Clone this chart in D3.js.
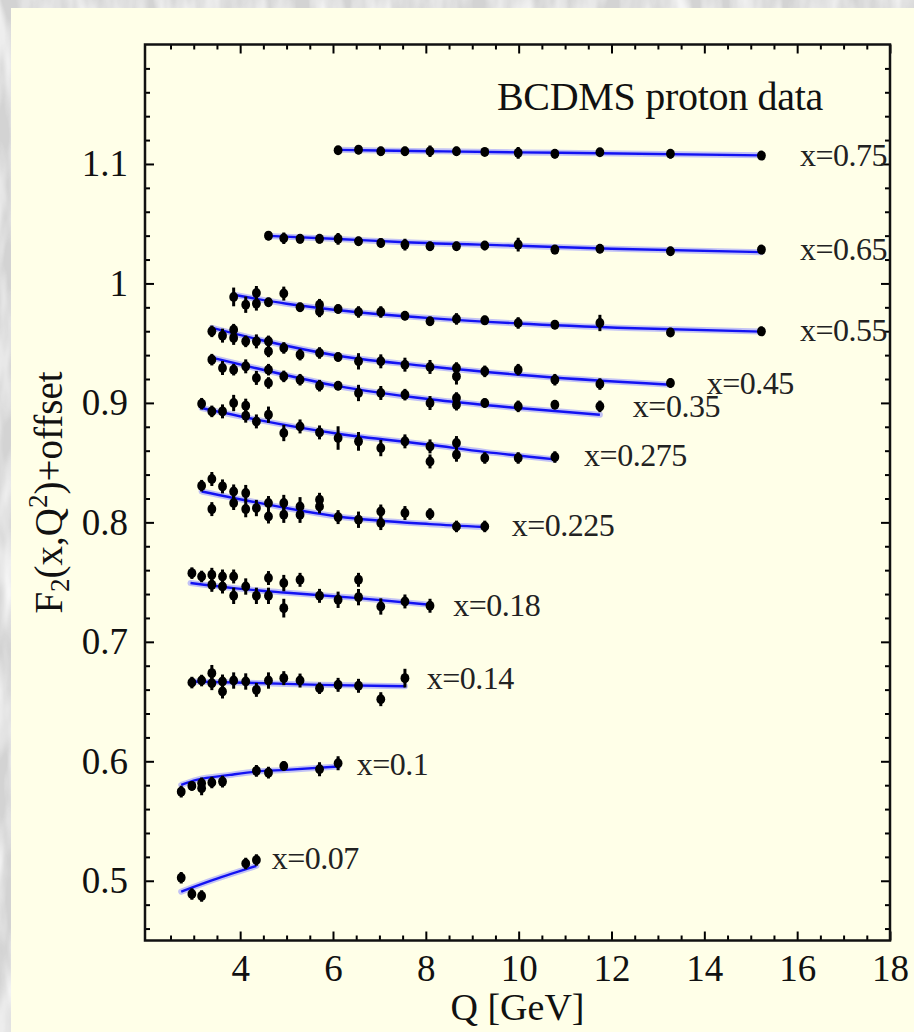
<!DOCTYPE html>
<html><head><meta charset="utf-8">
<script src="https://cdn.jsdelivr.net/npm/d3@7"></script>
<style>html,body{margin:0;padding:0;background:#d6d6d6;} svg{display:block}</style>
</head><body><svg id="chart" width="914" height="1032"></svg>
<script>
// ---------------- data ----------------
const labels = ["x=0.75","x=0.65","x=0.55","x=0.45","x=0.35","x=0.275","x=0.225","x=0.18","x=0.14","x=0.1","x=0.07"];

const q075 = [6.11,6.55,7.03,7.55,8.09,8.66,9.27,9.99,10.78,11.75,13.27,15.23];
const f075 = [1.1115,1.1120,1.1106,1.1106,1.1106,1.1106,1.1101,1.1093,1.1085,1.1098,1.1085,1.1070];
const e075 = [0.002,0.003,0.003,0.003,0.004,0.003,0.002,0.004,0.003,0.002,0.003,0.002];

const q065 = [4.61,4.94,5.29,5.71,6.11,6.55,7.03,7.55,8.09,8.66,9.27,9.99,10.78,11.75,13.27,15.23];
const f065 = [1.0400,1.0378,1.0373,1.0373,1.0373,1.0353,1.0339,1.0325,1.0311,1.0311,1.0317,1.0325,1.0283,1.0291,1.0269,1.0283];
const e065 = [0.003,0.004,0.003,0.003,0.004,0.003,0.003,0.004,0.003,0.003,0.003,0.005,0.003,0.003,0.003,0.003];

const q055 = [3.86,4.12,4.35,4.35,4.61,4.94,5.29,5.71,5.71,6.11,6.55,7.03,7.55,8.09,8.66,9.27,9.99,10.78,11.75,13.27,15.23];
const f055 = [0.9887,0.9822,0.9920,0.9831,0.9842,0.9915,0.9800,0.9822,0.9766,0.9786,0.9761,0.9761,0.9730,0.9683,0.9703,0.9691,0.9669,0.9655,0.9669,0.9590,0.9599];
const e055 = [0.007,0.006,0.005,0.005,0.003,0.005,0.003,0.004,0.004,0.003,0.004,0.004,0.003,0.003,0.004,0.003,0.004,0.003,0.006,0.003,0.003];

const q045 = [3.39,3.62,3.86,3.86,4.12,4.35,4.61,4.61,4.94,5.29,5.71,6.11,6.55,7.03,7.55,8.09,8.66,8.66,9.27,9.99,10.78,11.75,13.27];
const f045 = [0.9599,0.9563,0.9613,0.9544,0.9515,0.9515,0.9515,0.9431,0.9460,0.9404,0.9418,0.9384,0.9348,0.9348,0.9320,0.9301,0.9292,0.9222,0.9264,0.9278,0.9194,0.9158,0.9167];
const e045 = [0.004,0.005,0.004,0.005,0.004,0.005,0.004,0.004,0.004,0.004,0.004,0.003,0.006,0.005,0.005,0.005,0.004,0.006,0.004,0.004,0.004,0.004,0.003];

const q035 = [3.39,3.62,3.86,4.12,4.35,4.61,4.61,4.94,5.29,5.71,6.11,6.55,7.03,7.55,8.09,8.66,8.66,9.27,9.99,10.78,11.75];
const f035 = [0.9362,0.9292,0.9278,0.9306,0.9209,0.9278,0.9167,0.9222,0.9194,0.9144,0.9144,0.9083,0.9083,0.9069,0.8999,0.9041,0.8985,0.8999,0.8971,0.8985,0.8971];
const e035 = [0.004,0.005,0.004,0.005,0.005,0.004,0.004,0.004,0.004,0.004,0.003,0.006,0.005,0.004,0.005,0.004,0.004,0.003,0.004,0.003,0.004];

const q0275 = [3.17,3.39,3.62,3.86,4.12,4.12,4.35,4.61,4.94,5.29,5.71,6.11,6.55,7.03,7.55,8.09,8.09,8.66,8.66,9.27,9.99,10.78];
const f0275 = [0.8993,0.8929,0.8929,0.8999,0.8977,0.8893,0.8845,0.8901,0.8748,0.8803,0.8753,0.8706,0.8678,0.8622,0.8678,0.8636,0.8510,0.8664,0.8566,0.8539,0.8539,0.8547];
const e0275 = [0.004,0.004,0.005,0.006,0.005,0.005,0.005,0.006,0.006,0.005,0.005,0.009,0.007,0.006,0.005,0.005,0.005,0.005,0.005,0.004,0.004,0.004];

const q0225 = [3.17,3.39,3.39,3.62,3.86,3.86,4.12,4.12,4.35,4.61,4.61,4.94,4.94,5.29,5.29,5.71,5.71,6.11,6.55,7.03,7.03,7.55,8.09,8.66,9.27];
const f0225 = [0.8307,0.8363,0.8111,0.8301,0.8259,0.8162,0.8245,0.8111,0.8120,0.8162,0.8049,0.8162,0.8064,0.8133,0.8064,0.8189,0.8133,0.8044,0.8022,0.8091,0.7994,0.8078,0.8070,0.7966,0.7966];
const e0225 = [0.004,0.005,0.005,0.005,0.005,0.005,0.006,0.006,0.006,0.005,0.005,0.006,0.006,0.007,0.006,0.005,0.005,0.005,0.006,0.005,0.005,0.005,0.004,0.004,0.004];

const q018 = [2.96,3.17,3.39,3.39,3.62,3.62,3.86,3.86,4.12,4.35,4.61,4.61,4.94,4.94,5.29,5.71,6.11,6.55,6.55,7.03,7.55,8.09];
const f018 = [0.7575,0.7547,0.7561,0.7477,0.7547,0.7463,0.7547,0.7385,0.7463,0.7385,0.7534,0.7385,0.7492,0.7282,0.7519,0.7385,0.7352,0.7519,0.7374,0.7296,0.7338,0.7302];
const e018 = [0.004,0.004,0.005,0.005,0.005,0.005,0.005,0.006,0.006,0.006,0.005,0.006,0.006,0.007,0.005,0.005,0.006,0.005,0.006,0.006,0.005,0.005];

const q014 = [2.96,3.17,3.39,3.39,3.62,3.62,3.86,4.12,4.35,4.61,4.94,5.29,5.71,6.11,6.55,7.03,7.55];
const f014 = [0.6659,0.6676,0.6738,0.6654,0.6668,0.6584,0.6676,0.6668,0.6598,0.6676,0.6696,0.6676,0.6612,0.6640,0.6632,0.6520,0.6696];
const e014 = [0.004,0.004,0.006,0.005,0.005,0.005,0.006,0.006,0.005,0.006,0.005,0.005,0.004,0.005,0.005,0.005,0.007];

const q010 = [2.73,2.96,3.17,3.17,3.39,3.62,4.35,4.61,4.94,5.71,6.11];
const f010 = [0.5746,0.5794,0.5817,0.5775,0.5822,0.5830,0.5920,0.5905,0.5961,0.5934,0.5984];
const e010 = [0.004,0.003,0.004,0.005,0.004,0.004,0.004,0.004,0.003,0.005,0.005];

const q007 = [2.73,2.96,3.17,4.12,4.35];
const f007 = [0.5025,0.4889,0.4873,0.5145,0.5174];
const e007 = [0.004,0.004,0.004,0.004,0.004];

// fitted curves (read at a few Q values)
const fitQ075 = [6.11,8.09,9.99,11.75,15.23];        const fitF075 = [1.1118,1.1107,1.1097,1.1090,1.1072];
const fitQ065 = [4.61,6.11,7.55,9.99,12.0,15.23];    const fitF065 = [1.0398,1.0372,1.0345,1.0315,1.0290,1.0262];
const fitQ055 = [3.86,5.0,6.11,8.09,9.99,12.5,15.23];const fitF055 = [0.9905,0.9830,0.9776,0.9710,0.9665,0.9625,0.9597];
const fitQ045 = [3.39,4.35,6.11,8.09,9.99,13.27];    const fitF045 = [0.9628,0.9535,0.9395,0.9305,0.9236,0.9152];
const fitQ035 = [3.39,4.35,6.11,8.09,9.99,11.75];    const fitF035 = [0.9379,0.9290,0.9140,0.9030,0.8957,0.8901];
const fitQ0275 = [3.17,4.35,6.11,8.09,9.27,10.78];   const fitF0275 = [0.8957,0.8860,0.8742,0.8650,0.8590,0.8527];
const fitQ0225 = [3.17,4.35,6.11,8.09,9.27];         const fitF0225 = [0.8259,0.8167,0.8049,0.7985,0.7961];
const fitQ018 = [2.93,3.86,4.94,6.55,8.09];          const fitF018 = [0.7492,0.7450,0.7413,0.7366,0.7310];
const fitQ014 = [2.96,4.35,5.71,7.55];               const fitF014 = [0.6668,0.6655,0.6640,0.6628];
const fitQ010 = [2.73,3.06,3.78,4.35,4.99,6.11];     const fitF010 = [0.5802,0.5844,0.5886,0.5914,0.5928,0.5956];
const fitQ007 = [2.73,3.42,4.35];                    const fitF007 = [0.4909,0.5007,0.5124];

// label anchors in data coordinates
const labelQ = [16.06,16.06,16.06,14.05,12.46,11.41,9.85,8.59,8.02,6.51,4.68];
const labelF = [1.0987,1.0199,0.9521,0.9077,0.8885,0.8474,0.7888,0.7218,0.6606,0.5886,0.5099];

const xMajor = [4,6,8,10,12,14,16,18];
const yMajor = [0.5,0.6,0.7,0.8,0.9,1.0,1.1];
const title = "BCDMS proton data";
const xTitle = "Q [GeV]";

// ---------------- build ----------------
const Q = [q075,q065,q055,q045,q035,q0275,q0225,q018,q014,q010,q007];
const F = [f075,f065,f055,f045,f035,f0275,f0225,f018,f014,f010,f007];
const E = [e075,e065,e055,e045,e035,e0275,e0225,e018,e014,e010,e007];
const FQ = [fitQ075,fitQ065,fitQ055,fitQ045,fitQ035,fitQ0275,fitQ0225,fitQ018,fitQ014,fitQ010,fitQ007];
const FF = [fitF075,fitF065,fitF055,fitF045,fitF035,fitF0275,fitF0225,fitF018,fitF014,fitF010,fitF007];

const W = 914, H = 1032;
const L = 145, R = 890, T = 44.5, B = 940.5;
const serif = "'Liberation Serif','Times New Roman',Times,serif";

const svg = d3.select("#chart");
const defs = svg.append("defs");
const filt = defs.append("filter").attr("id","marble").attr("x",0).attr("y",0).attr("width","100%").attr("height","100%");
filt.append("feTurbulence").attr("type","fractalNoise").attr("baseFrequency","0.045 0.012").attr("numOctaves",3).attr("seed",7);
filt.append("feColorMatrix").attr("type","matrix").attr("values","0 0 0 0 1  0 0 0 0 1  0 0 0 0 1  0 0 0 -2.2 1.45");
defs.append("clipPath").attr("id","plotclip").append("rect").attr("x",L).attr("y",T).attr("width",R-L).attr("height",B-T);

svg.append("rect").attr("width",W).attr("height",H).attr("fill","#d3d3d3");
svg.append("rect").attr("width",W).attr("height",H).attr("filter","url(#marble)").attr("opacity",0.8);
svg.append("rect").attr("x",11).attr("y",8).attr("width",W-11).attr("height",H-8).attr("fill","#ffffe8");

const x = d3.scaleLinear().domain([1.95,18]).range([L,R]);
const y = d3.scaleLinear().domain([0.45,1.2]).range([B,T]);

// minor tick values
const xMinor = d3.range(2.5,18,0.5).filter(v => Math.abs(v/2 - Math.round(v/2)) > 1e-6);
const yMinor = d3.range(0.46,1.2,0.02).map(v=>+v.toFixed(2)).filter(v => Math.abs(v*10 - Math.round(v*10)) > 1e-6);

function styleAxis(g){
  g.select(".domain").remove();
  g.selectAll(".tick line").attr("stroke","#000").attr("stroke-width",2);
  g.selectAll("text").attr("font-family",serif).attr("fill","#111");
}
const fmtY = d => d === 1 ? "1" : d3.format(".1f")(d);

// bottom
svg.append("g").attr("transform",`translate(0,${B})`)
  .call(d3.axisBottom(x).tickValues(xMajor).tickSize(-9).tickPadding(14).tickFormat(d3.format("d")))
  .call(styleAxis).call(g=>g.selectAll("text").attr("font-size",37));
svg.append("g").attr("transform",`translate(0,${B})`)
  .call(d3.axisBottom(x).tickValues(xMinor).tickSize(-5).tickFormat("")).call(styleAxis);
// top
svg.append("g").attr("transform",`translate(0,${T})`)
  .call(d3.axisTop(x).tickValues(xMajor).tickSize(-9).tickFormat("")).call(styleAxis);
svg.append("g").attr("transform",`translate(0,${T})`)
  .call(d3.axisTop(x).tickValues(xMinor).tickSize(-5).tickFormat("")).call(styleAxis);
// left
svg.append("g").attr("transform",`translate(${L},0)`)
  .call(d3.axisLeft(y).tickValues(yMajor).tickSize(-9).tickPadding(17).tickFormat(fmtY))
  .call(styleAxis).call(g=>g.selectAll("text").attr("font-size",37));
svg.append("g").attr("transform",`translate(${L},0)`)
  .call(d3.axisLeft(y).tickValues(yMinor).tickSize(-5).tickFormat("")).call(styleAxis);
// right
svg.append("g").attr("transform",`translate(${R},0)`)
  .call(d3.axisRight(y).tickValues(yMajor).tickSize(-9).tickFormat("")).call(styleAxis);
svg.append("g").attr("transform",`translate(${R},0)`)
  .call(d3.axisRight(y).tickValues(yMinor).tickSize(-5).tickFormat("")).call(styleAxis);

// frame
svg.append("rect").attr("x",L).attr("y",T).attr("width",R-L).attr("height",B-T)
  .attr("fill","none").attr("stroke","#111").attr("stroke-width",2.5);

const plot = svg.append("g").attr("clip-path","url(#plotclip)");
const line = d3.line().x(d=>x(d[0])).y(d=>y(d[1])).curve(d3.curveMonotoneX);

Q.forEach((qs,i)=>{
  const fit = FQ[i].map((q,j)=>[q,FF[i][j]]);
  plot.append("path").attr("d",line(fit)).attr("fill","none").attr("stroke","#8f8fff").attr("stroke-width",6).attr("stroke-opacity",0.55).attr("stroke-linecap","round");
  plot.append("path").attr("d",line(fit)).attr("fill","none").attr("stroke","#1212f2").attr("stroke-width",2.4);
});

Q.forEach((qs,i)=>{
  const pts = qs.map((q,j)=>({q, f:F[i][j], e:E[i][j]}));
  const g = plot.append("g");
  g.selectAll("line").data(pts).join("line")
    .attr("x1",d=>x(d.q)).attr("x2",d=>x(d.q))
    .attr("y1",d=>y(d.f+d.e)-1).attr("y2",d=>y(d.f-d.e)+1)
    .attr("stroke","#000").attr("stroke-width",3);
  g.selectAll("ellipse").data(pts).join("ellipse")
    .attr("cx",d=>x(d.q)).attr("cy",d=>y(d.f)).attr("rx",4.4).attr("ry",5).attr("fill","#000");
});

plot.selectAll("text.lbl").data(labels).join("text").attr("class","lbl")
  .attr("x",(d,i)=>x(labelQ[i])).attr("y",(d,i)=>y(labelF[i]))
  .attr("font-family",serif).attr("font-size",32).attr("letter-spacing",-0.5).attr("fill","#222").text(d=>d);

plot.append("text").attr("x",660).attr("y",110).attr("text-anchor","middle")
  .attr("font-family",serif).attr("font-size",40).attr("letter-spacing",-0.3).attr("fill","#111").text(title);

svg.append("text").attr("x",(L+R)/2).attr("y",1020).attr("text-anchor","middle")
  .attr("font-family",serif).attr("font-size",38).attr("fill","#111").text(xTitle);

const yt = svg.append("text").attr("transform",`translate(62,${(T+B)/2}) rotate(-90)`).attr("text-anchor","middle")
  .attr("font-family",serif).attr("font-size",39).attr("fill","#111");
yt.append("tspan").text("F");
yt.append("tspan").attr("font-size",27).attr("dy",7).text("2");
yt.append("tspan").attr("dy",-7).text("(x,Q");
yt.append("tspan").attr("font-size",27).attr("dy",-15).text("2");
yt.append("tspan").attr("dy",15).text(")+offset");
</script></body></html>
